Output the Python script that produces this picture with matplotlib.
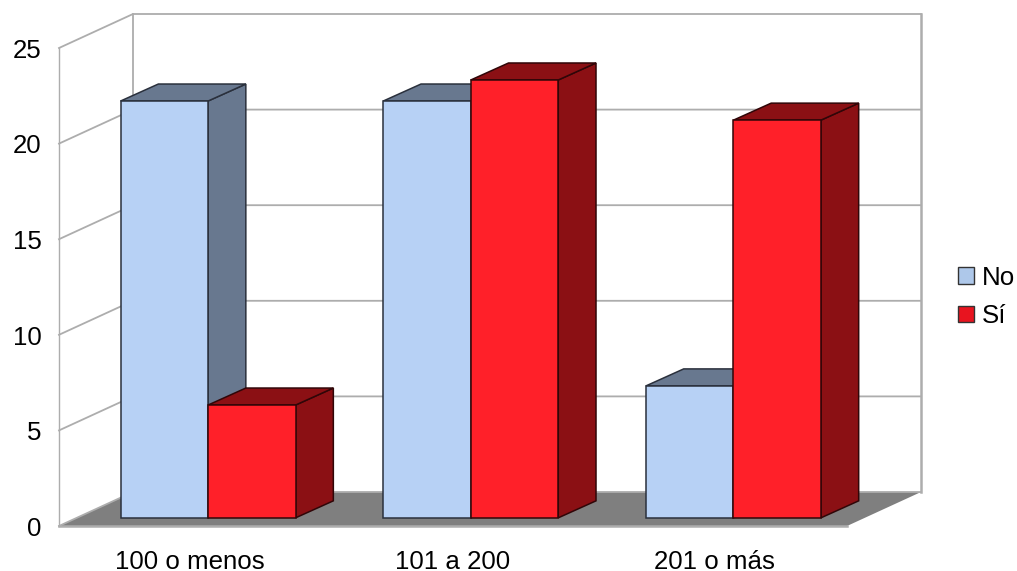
import numpy as np
import matplotlib
matplotlib.use("Agg")
import matplotlib.pyplot as plt
from matplotlib.patches import Patch

plt.rcParams['font.family'] = ['Liberation Sans', 'DejaVu Sans']

# datos
categorias = ["100 o menos", "101 a 200", "201 o más"]
valores_no = [21.8, 21.8, 6.9]
valores_si = [5.9, 22.9, 20.8]
ticks_y = [0, 5, 10, 15, 20, 25]

# colores
azul, azul_osc = "#b7d1f5", "#68788f"
rojo, rojo_osc = "#ff2029", "#8b1014"
gris_rejilla = "#adadad"
gris_suelo = "#7f7f7f"
letra = 18.6

# escala: un grupo = 262.67 px, una unidad = 19.12 px
ancho, alto = 1017, 571
px_x = 262.67
px_y = 19.12
fig = plt.figure(figsize=(ancho / 100, alto / 100), dpi=100)
ax = fig.add_axes([0, 0, 1, 1])
ax.set_xlim(-59 / px_x, (ancho - 59) / px_x)
ax.set_ylim(-(alto - 526) / px_y, 526 / px_y)
ax.axis("off")

# profundidad de la caja
prof_x = 74 / px_x
prof_y = 34 / px_y
techo = ticks_y[-1]
n = len(categorias)

# suelo y paredes
ax.fill([0, n, n + prof_x, prof_x], [0, 0, prof_y, prof_y], color=gris_suelo, lw=0, zorder=1)
ax.plot([0, n], [0, 0], color=gris_rejilla, lw=1.8, zorder=1.5)
ax.plot([prof_x, n + prof_x], [prof_y, prof_y], color=gris_rejilla, lw=1.3, zorder=1.5)
ax.plot([0, prof_x, prof_x], [0, prof_y, techo + prof_y], color=gris_rejilla, lw=1.3, zorder=1.5)
ax.plot([n + prof_x, n + prof_x], [prof_y, techo + prof_y], color=gris_rejilla, lw=1.8, zorder=1.5)
ax.plot([0, 0], [0, techo], color=gris_rejilla, lw=1.0, zorder=1.5)
for v in ticks_y[1:]:
    ax.plot([0, prof_x, n + prof_x], [v, v + prof_y, v + prof_y], color=gris_rejilla, lw=1.3, zorder=1.5)
for v in ticks_y:
    ax.text(-0.067, v - 0.02, str(v), ha="right", va="center_baseline", fontsize=letra, color="black")


def barra(x, valor, ancho_b, c_frente, c_lado, c_borde, z):
    # cada barra ocupa la franja central de la profundidad
    x0 = x + 0.24 * prof_x
    y0 = 0.24 * prof_y
    dx = 0.51 * prof_x
    dy = 0.50 * prof_y
    x1 = x0 + ancho_b
    y1 = y0 + valor
    ax.fill([x1, x1 + dx, x1 + dx, x1], [y0, y0 + dy, y1 + dy, y1],
            facecolor=c_lado, edgecolor=c_borde, lw=1.1, zorder=z)
    ax.fill([x0, x0 + dx, x1 + dx, x1], [y1, y1 + dy, y1 + dy, y1],
            facecolor=c_lado, edgecolor=c_borde, lw=1.1, zorder=z)
    ax.bar(x0, valor, width=ancho_b, bottom=y0, align="edge",
           facecolor=c_frente, edgecolor=c_borde, lw=1.1, zorder=z)


ancho_barra = 87.5 / px_x
for i in range(n):
    centro = i + 0.5
    barra(centro - ancho_barra, valores_no[i], ancho_barra, azul, azul_osc, "#2a303c", 3 + i)
    barra(centro, valores_si[i], ancho_barra, rojo, rojo_osc, "#300608", 3.5 + i)
    ax.text(centro - 0.003, -43 / px_y, categorias[i], ha="center", va="baseline",
            fontsize=letra, color="black")

handles = [Patch(facecolor="#aec8ea", edgecolor="#333333", lw=1, label="No"),
           Patch(facecolor="#e8141f", edgecolor="#333333", lw=1, label="Sí")]
ax.legend(handles=handles, loc="center left", bbox_to_anchor=(958 / ancho, 1 - 297 / alto),
          frameon=False, fontsize=letra, borderpad=0, borderaxespad=0,
          handlelength=0.62, handleheight=0.62, handletextpad=0.31, labelspacing=0.55)

fig.savefig("out.png", dpi=100)
